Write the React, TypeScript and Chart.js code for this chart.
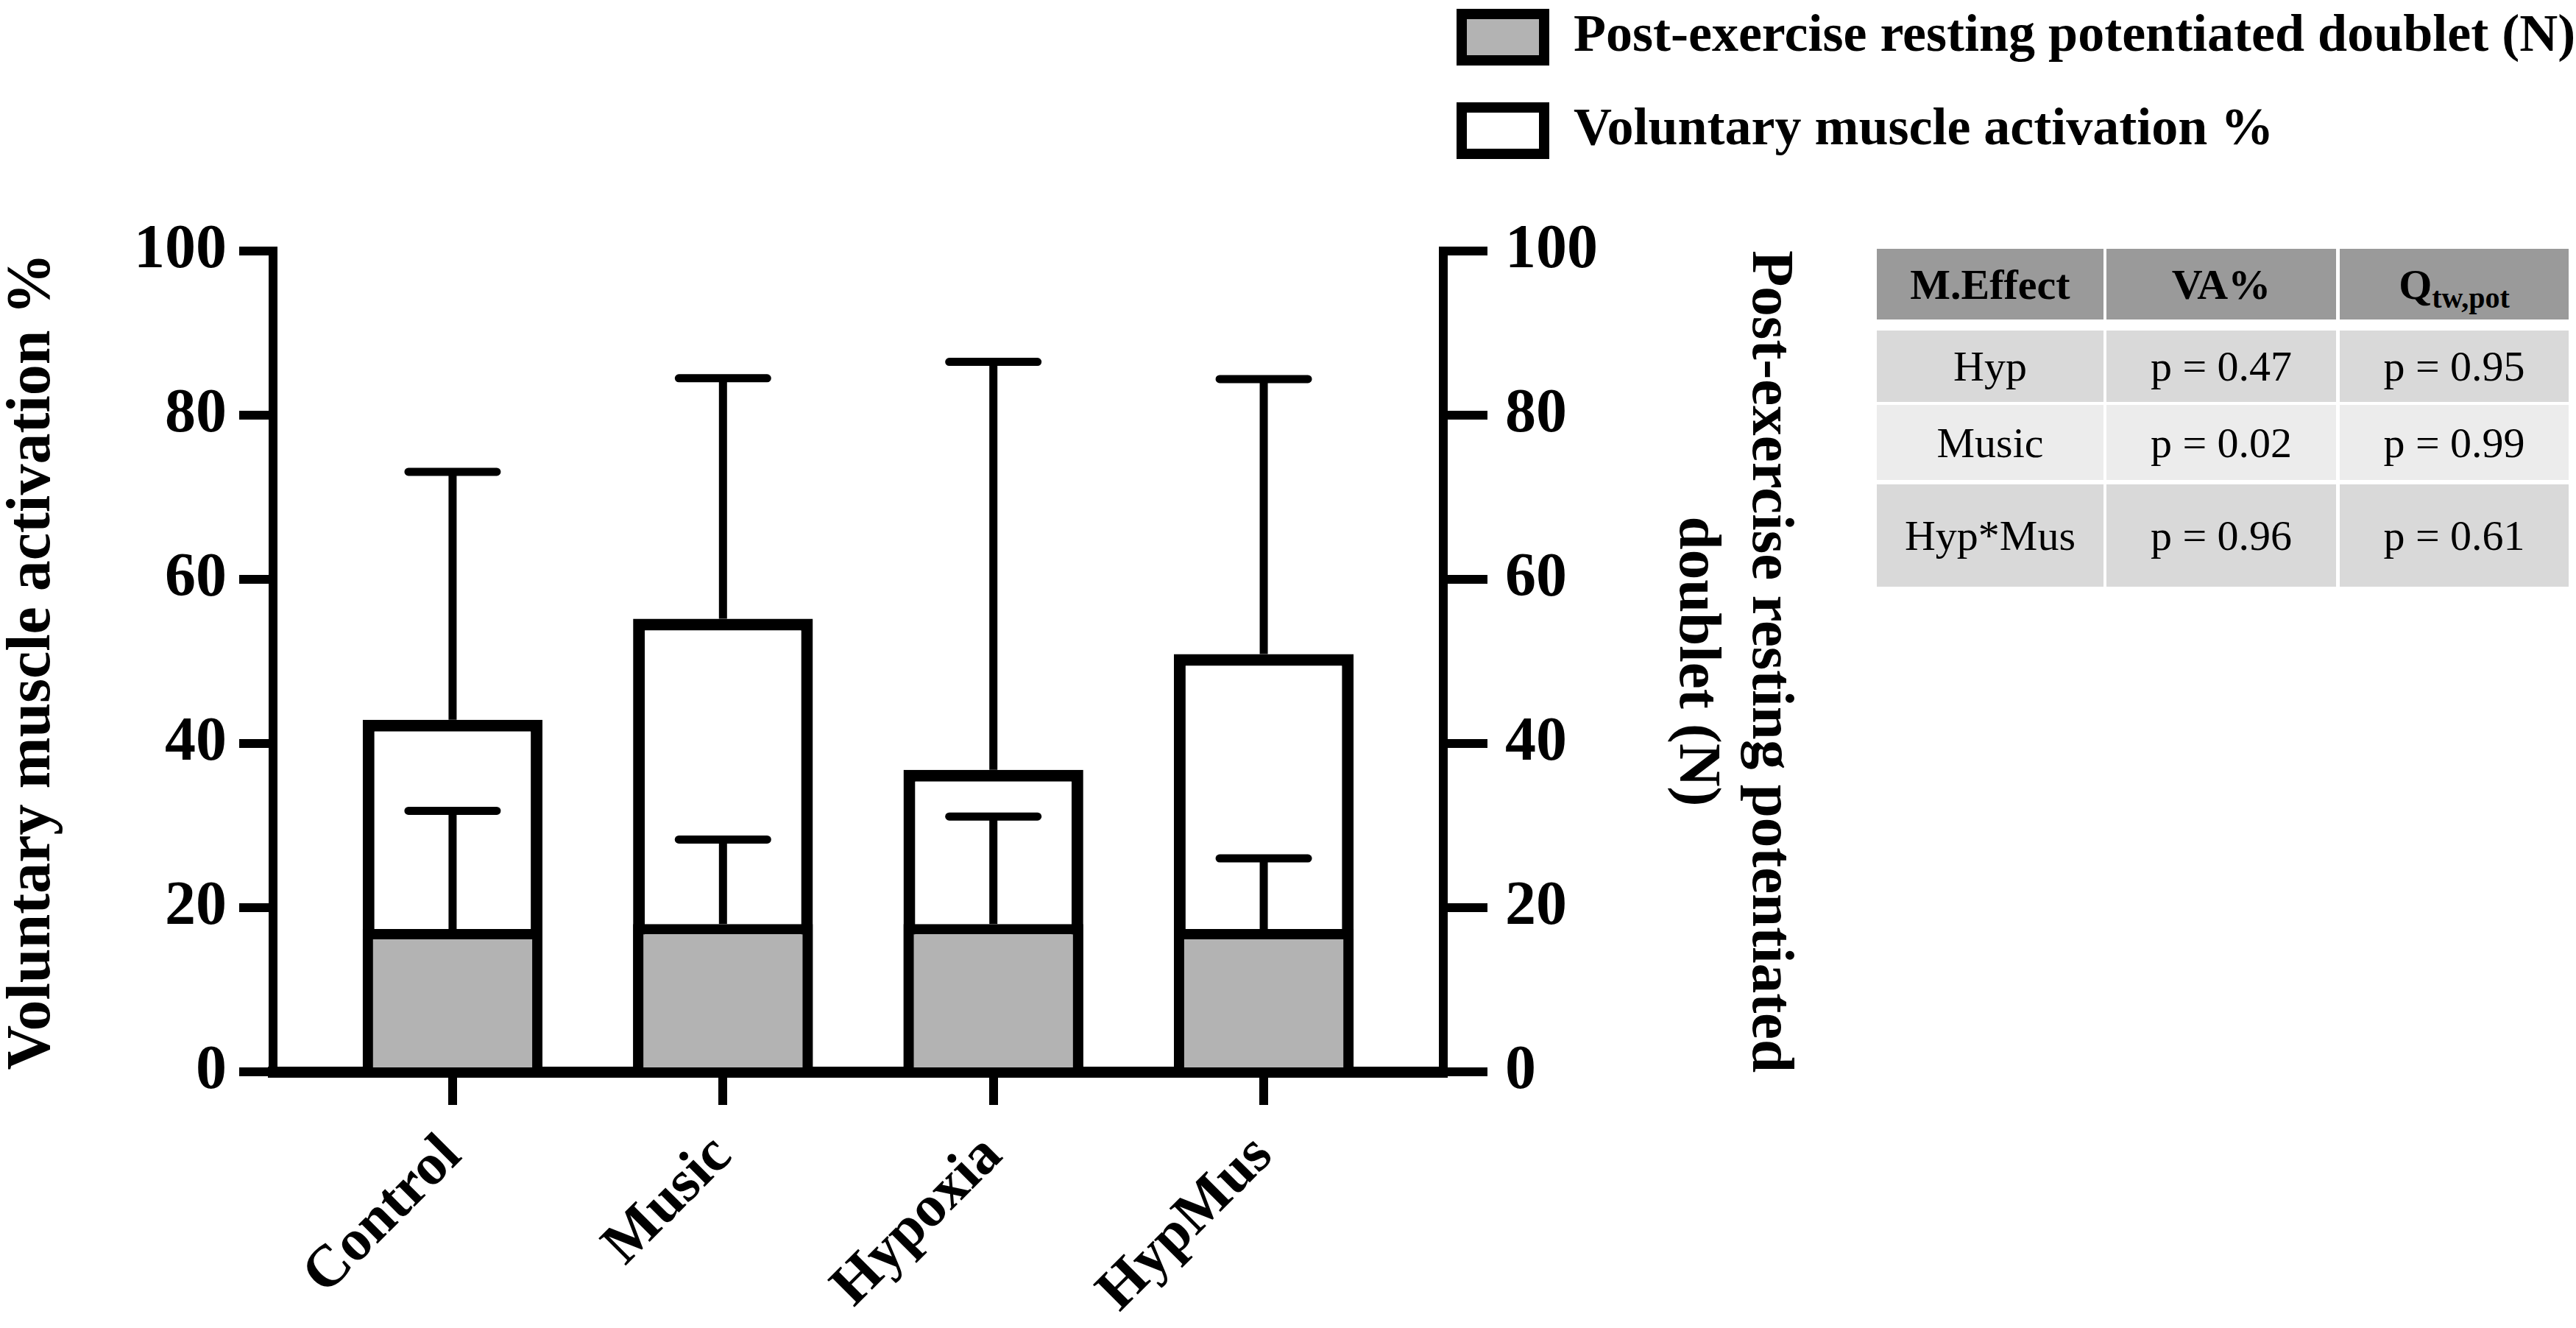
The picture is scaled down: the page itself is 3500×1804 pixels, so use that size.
import { useEffect, useRef } from 'react';
import { Chart, registerables } from 'chart.js';

Chart.register(...registerables);

const categories = ['Control', 'Music', 'Hypoxia', 'HypMus'];

// post-exercise resting potentiated doublet (N), right axis, grey bars
const doubletMean = [17.4, 18.0, 18.0, 17.4];
const doubletSD = [14.4, 10.3, 13.1, 8.6];

// voluntary muscle activation (%), left axis, open bars
const vaMean = [42.9, 55.2, 36.8, 50.9];
const vaSD = [30.2, 29.3, 49.7, 33.5];

const yMin = 0;
const yMax = 100;
const yStep = 20;

const seriesLabels = ['Post-exercise resting potentiated doublet (N)', 'Voluntary muscle activation %'];
const seriesFill = ['#b3b3b3', '#ffffff'];
const seriesSD = [doubletSD, vaSD];

const leftTitle = 'Voluntary muscle activation %';
const rightTitle = ['Post-exercise resting potentiated', 'doublet (N)'];

// main effects table
const effects = ['Hyp', 'Music', 'Hyp*Mus'];
const vaP = ['p = 0.47', 'p = 0.02', 'p = 0.96'];
const qP = ['p = 0.95', 'p = 0.99', 'p = 0.61'];

const SERIF = '"Liberation Serif", "Times New Roman", serif';

const errorBars = {
  id: 'errorBars',
  afterDatasetsDraw(chart: any) {
    const ctx = chart.ctx;
    chart.data.datasets.forEach((_ds: any, di: number) => {
      const meta = chart.getDatasetMeta(di);
      const scale = chart.scales[meta.yAxisID];
      const means = di === 0 ? doubletMean : vaMean;
      ctx.save();
      ctx.strokeStyle = '#000';
      ctx.lineWidth = 11;
      meta.data.forEach((bar: any, i: number) => {
        const top = scale.getPixelForValue(means[i] + seriesSD[di][i]);
        ctx.lineCap = 'butt';
        ctx.beginPath();
        ctx.moveTo(bar.x, bar.y);
        ctx.lineTo(bar.x, top);
        ctx.stroke();
        ctx.lineCap = 'round';
        ctx.beginPath();
        ctx.moveTo(bar.x - 60, top);
        ctx.lineTo(bar.x + 60, top);
        ctx.stroke();
      });
      ctx.restore();
    });
  },
};

function BarChart() {
  const canvasRef = useRef<HTMLCanvasElement>(null);
  const chartRef = useRef<Chart | null>(null);

  useEffect(() => {
    if (!canvasRef.current) return;
    if (chartRef.current) chartRef.current.destroy();

    const tickFont = { family: SERIF, size: 84, weight: 'bold' as const };

    chartRef.current = new Chart(canvasRef.current, {
      type: 'bar',
      data: {
        datasets: [
          {
            label: seriesLabels[0],
            data: categories.map((_, i) => ({ x: i, y: doubletMean[i] })),
            yAxisID: 'y1',
            backgroundColor: seriesFill[0],
            borderColor: '#000',
            borderWidth: 14,
            grouped: false,
            barPercentage: 0.665,
            categoryPercentage: 1,
          },
          {
            label: seriesLabels[1],
            data: categories.map((_, i) => ({ x: i, y: vaMean[i] })),
            yAxisID: 'y',
            backgroundColor: seriesFill[1],
            borderColor: '#000',
            borderWidth: 16,
            grouped: false,
            barPercentage: 0.665,
            categoryPercentage: 1,
          },
        ],
      },
      options: {
        responsive: false,
        animation: false,
        layout: { padding: { top: 341, left: 0, right: 0, bottom: 0 } },
        plugins: {
          legend: { display: false },
          tooltip: { enabled: false },
        },
        scales: {
          x: {
            type: 'linear',
            offset: false,
            min: -0.664,
            max: categories.length - 1 + 0.664,
            afterBuildTicks: (s: any) => {
              s.ticks = categories.map((_, i) => ({ value: i }));
            },
            afterFit: (s: any) => {
              s.height = 348;
            },
            ticks: {
              callback: (v: any) => categories[v] ?? '',
              autoSkip: false,
              minRotation: 45,
              maxRotation: 45,
              padding: 23,
              color: '#000',
              font: { family: SERIF, size: 80, weight: 'bold' },
            },
            grid: { offset: false, drawOnChartArea: false, tickLength: 45, lineWidth: 12, color: '#000' },
            border: { width: 15, color: '#000' },
          },
          y: {
            position: 'left',
            min: yMin,
            max: yMax,
            afterFit: (s: any) => {
              s.width = 371;
            },
            ticks: { stepSize: yStep, padding: 17, color: '#000', font: tickFont },
            grid: { drawOnChartArea: false, tickLength: 46, lineWidth: 12, color: '#000' },
            border: { width: 12, color: '#000' },
            title: {
              display: true,
              text: leftTitle,
              color: '#000',
              font: { family: SERIF, size: 84, weight: 'bold', lineHeight: 1 },
              padding: { top: 3, bottom: 0 },
            },
          },
          y1: {
            position: 'right',
            min: yMin,
            max: yMax,
            afterFit: (s: any) => {
              s.width = 499;
            },
            ticks: { stepSize: yStep, padding: 24, color: '#000', font: tickFont },
            grid: { drawOnChartArea: false, tickLength: 60, lineWidth: 12, color: '#000' },
            border: { width: 12, color: '#000' },
            title: {
              display: true,
              text: rightTitle,
              color: '#000',
              font: { family: SERIF, size: 81, weight: 'bold', lineHeight: 1.22 },
              padding: { top: 8, bottom: 0 },
            },
          },
        },
      },
      plugins: [errorBars],
    });

    return () => {
      if (chartRef.current) {
        chartRef.current.destroy();
        chartRef.current = null;
      }
    };
  }, []);

  return (
    <div style={{ position: 'absolute', left: 0, top: 0, width: 2460, height: 1804 }}>
      <canvas ref={canvasRef} width={2460} height={1804} style={{ display: 'block' }} />
    </div>
  );
}

function Legend() {
  return (
    <>
      {seriesLabels.map((label, i) => (
        <div
          key={label}
          style={{ position: 'absolute', left: 1979, top: i === 0 ? 12 : 139, display: 'flex', alignItems: 'center', whiteSpace: 'nowrap' }}
        >
          <div style={{ width: 126, height: 77, boxSizing: 'border-box', border: '14px solid #000', background: seriesFill[i] }} />
          <span style={{ marginLeft: 33, fontFamily: SERIF, fontWeight: 'bold', fontSize: 72, lineHeight: '77px', position: 'relative', top: -5 }}>
            {label}
          </span>
        </div>
      ))}
    </>
  );
}

function EffectsTable() {
  const colLeft = [2550, 2862, 3179];
  const colWidth = [308, 312, 311];
  const rowTop = [338, 449, 550, 658];
  const rowHeight = [96, 97, 102, 139];
  const rowBg = ['#9a9a9a', '#d9d9d9', '#ececec', '#d9d9d9'];

  const header = [
    'M.Effect',
    'VA%',
    <span key="q">
      Q<span style={{ fontSize: 40, position: 'relative', top: 12 }}>tw,pot</span>
    </span>,
  ];
  const rows = effects.map((e, i) => [e, vaP[i], qP[i]]);
  const all = [header, ...rows];

  return (
    <>
      {all.map((row, r) =>
        row.map((cell, c) => (
          <div
            key={`${r}-${c}`}
            style={{
              position: 'absolute',
              left: colLeft[c],
              top: rowTop[r],
              width: colWidth[c],
              height: rowHeight[r],
              background: rowBg[r],
              display: 'flex',
              alignItems: 'center',
              justifyContent: 'center',
              fontFamily: SERIF,
              fontSize: 58,
              fontWeight: r === 0 ? 'bold' : 'normal',
              color: '#000',
              whiteSpace: 'nowrap',
            }}
          >
            {cell}
          </div>
        ))
      )}
    </>
  );
}

export default function App() {
  return (
    <div style={{ position: 'absolute', left: 0, top: 0, width: 3500, height: 1804, background: '#fff', overflow: 'hidden' }}>
      <BarChart />
      <Legend />
      <EffectsTable />
    </div>
  );
}
